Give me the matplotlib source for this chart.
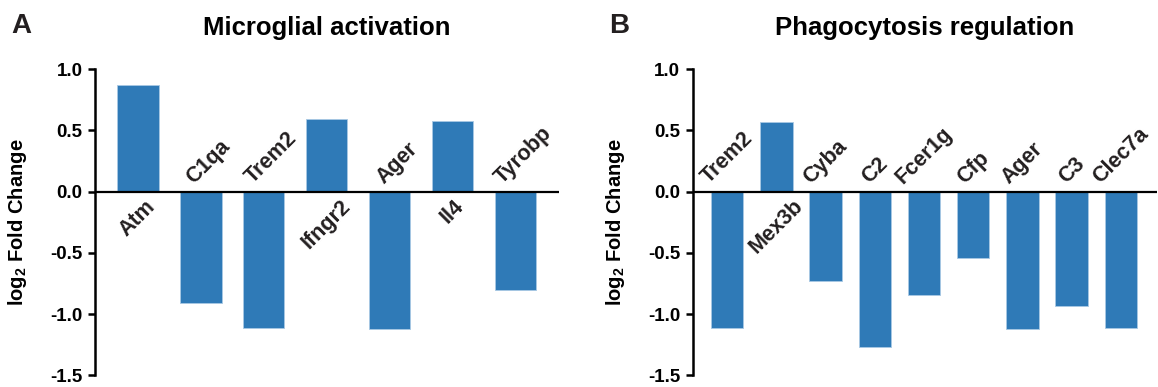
import matplotlib
matplotlib.use("Agg")
import matplotlib.pyplot as plt

plt.rcParams["font.family"] = ["Liberation Sans", "DejaVu Sans"]
plt.rcParams["font.weight"] = "bold"
plt.rcParams["mathtext.fontset"] = "custom"
plt.rcParams["mathtext.rm"] = "Liberation Sans:bold"
plt.rcParams["mathtext.bf"] = "Liberation Sans:bold"
plt.rcParams["mathtext.default"] = "rm"

BAR_COLOR = "#2f7ab7"

microglia_genes = ["Atm", "C1qa", "Trem2", "Ifngr2", "Ager", "Il4", "Tyrobp"]
microglia_values = [0.87, -0.91, -1.11, 0.59, -1.12, 0.58, -0.80]

phago_genes = ["Trem2", "Mex3b", "Cyba", "C2", "Fcer1g", "Cfp", "Ager", "C3", "Clec7a"]
phago_values = [-1.11, 0.57, -0.73, -1.27, -0.84, -0.54, -1.12, -0.93, -1.11]

y_ticks = [-1.5, -1.0, -0.5, 0.0, 0.5, 1.0]


def draw_panel(ax, genes, values, title, letter, xlim, shift_up=0.0):
    x = list(range(len(genes)))
    ax.bar(x, values, width=0.66, color=BAR_COLOR, edgecolor="#a8c9e4",
           linewidth=0.6, zorder=2)
    ax.axhline(0, color="black", linewidth=1.6, zorder=3)

    # gene names sit on the opposite side of the zero line from the bar
    for xi, gene, val in zip(x, genes, values):
        if val < 0:
            ax.annotate(gene, (xi + shift_up, 0), xytext=(0, 3), textcoords="offset points",
                        rotation=45, ha="center", va="bottom",
                        fontsize=15.5, fontweight="bold", color="#231f20")
        else:
            ax.annotate(gene, (xi, 0), xytext=(0, -3), textcoords="offset points",
                        rotation=45, ha="center", va="top",
                        fontsize=15.5, fontweight="bold", color="#231f20")

    ax.set_xlim(*xlim)
    ax.set_ylim(-1.5, 1.0)
    ax.set_yticks(y_ticks)
    ax.set_yticklabels([f"{t:.1f}" for t in y_ticks], fontsize=13.5, fontweight="bold")
    ax.set_xticks([])
    for side in ["top", "right", "bottom"]:
        ax.spines[side].set_visible(False)
    ax.spines["left"].set_linewidth(1.8)
    ax.tick_params(axis="y", length=5, width=1.8, pad=4)

    ax.set_ylabel("log$_2$ Fold Change", fontsize=14.5, fontweight="bold")
    ax.yaxis.set_label_coords(-0.142, 0.5)
    ax.set_title(title, fontsize=18.5, fontweight="bold", pad=25)
    ax.text(-0.158, 1.14, letter, transform=ax.transAxes, fontsize=20,
            fontweight="bold", color="#231f20", ha="center", va="center")


fig = plt.figure(figsize=(11.58, 3.87), dpi=100)
ax1 = fig.add_axes([0.082, 0.030, 0.4007, 0.791])
ax2 = fig.add_axes([0.5982, 0.030, 0.4007, 0.791])

draw_panel(ax1, microglia_genes, microglia_values, "Microglial activation", "A",
           (-0.68, 6.69), shift_up=0.12)
draw_panel(ax2, phago_genes, phago_values, "Phagocytosis regulation", "B", (-0.70, 8.73))

fig.savefig("out.png", dpi=100)
